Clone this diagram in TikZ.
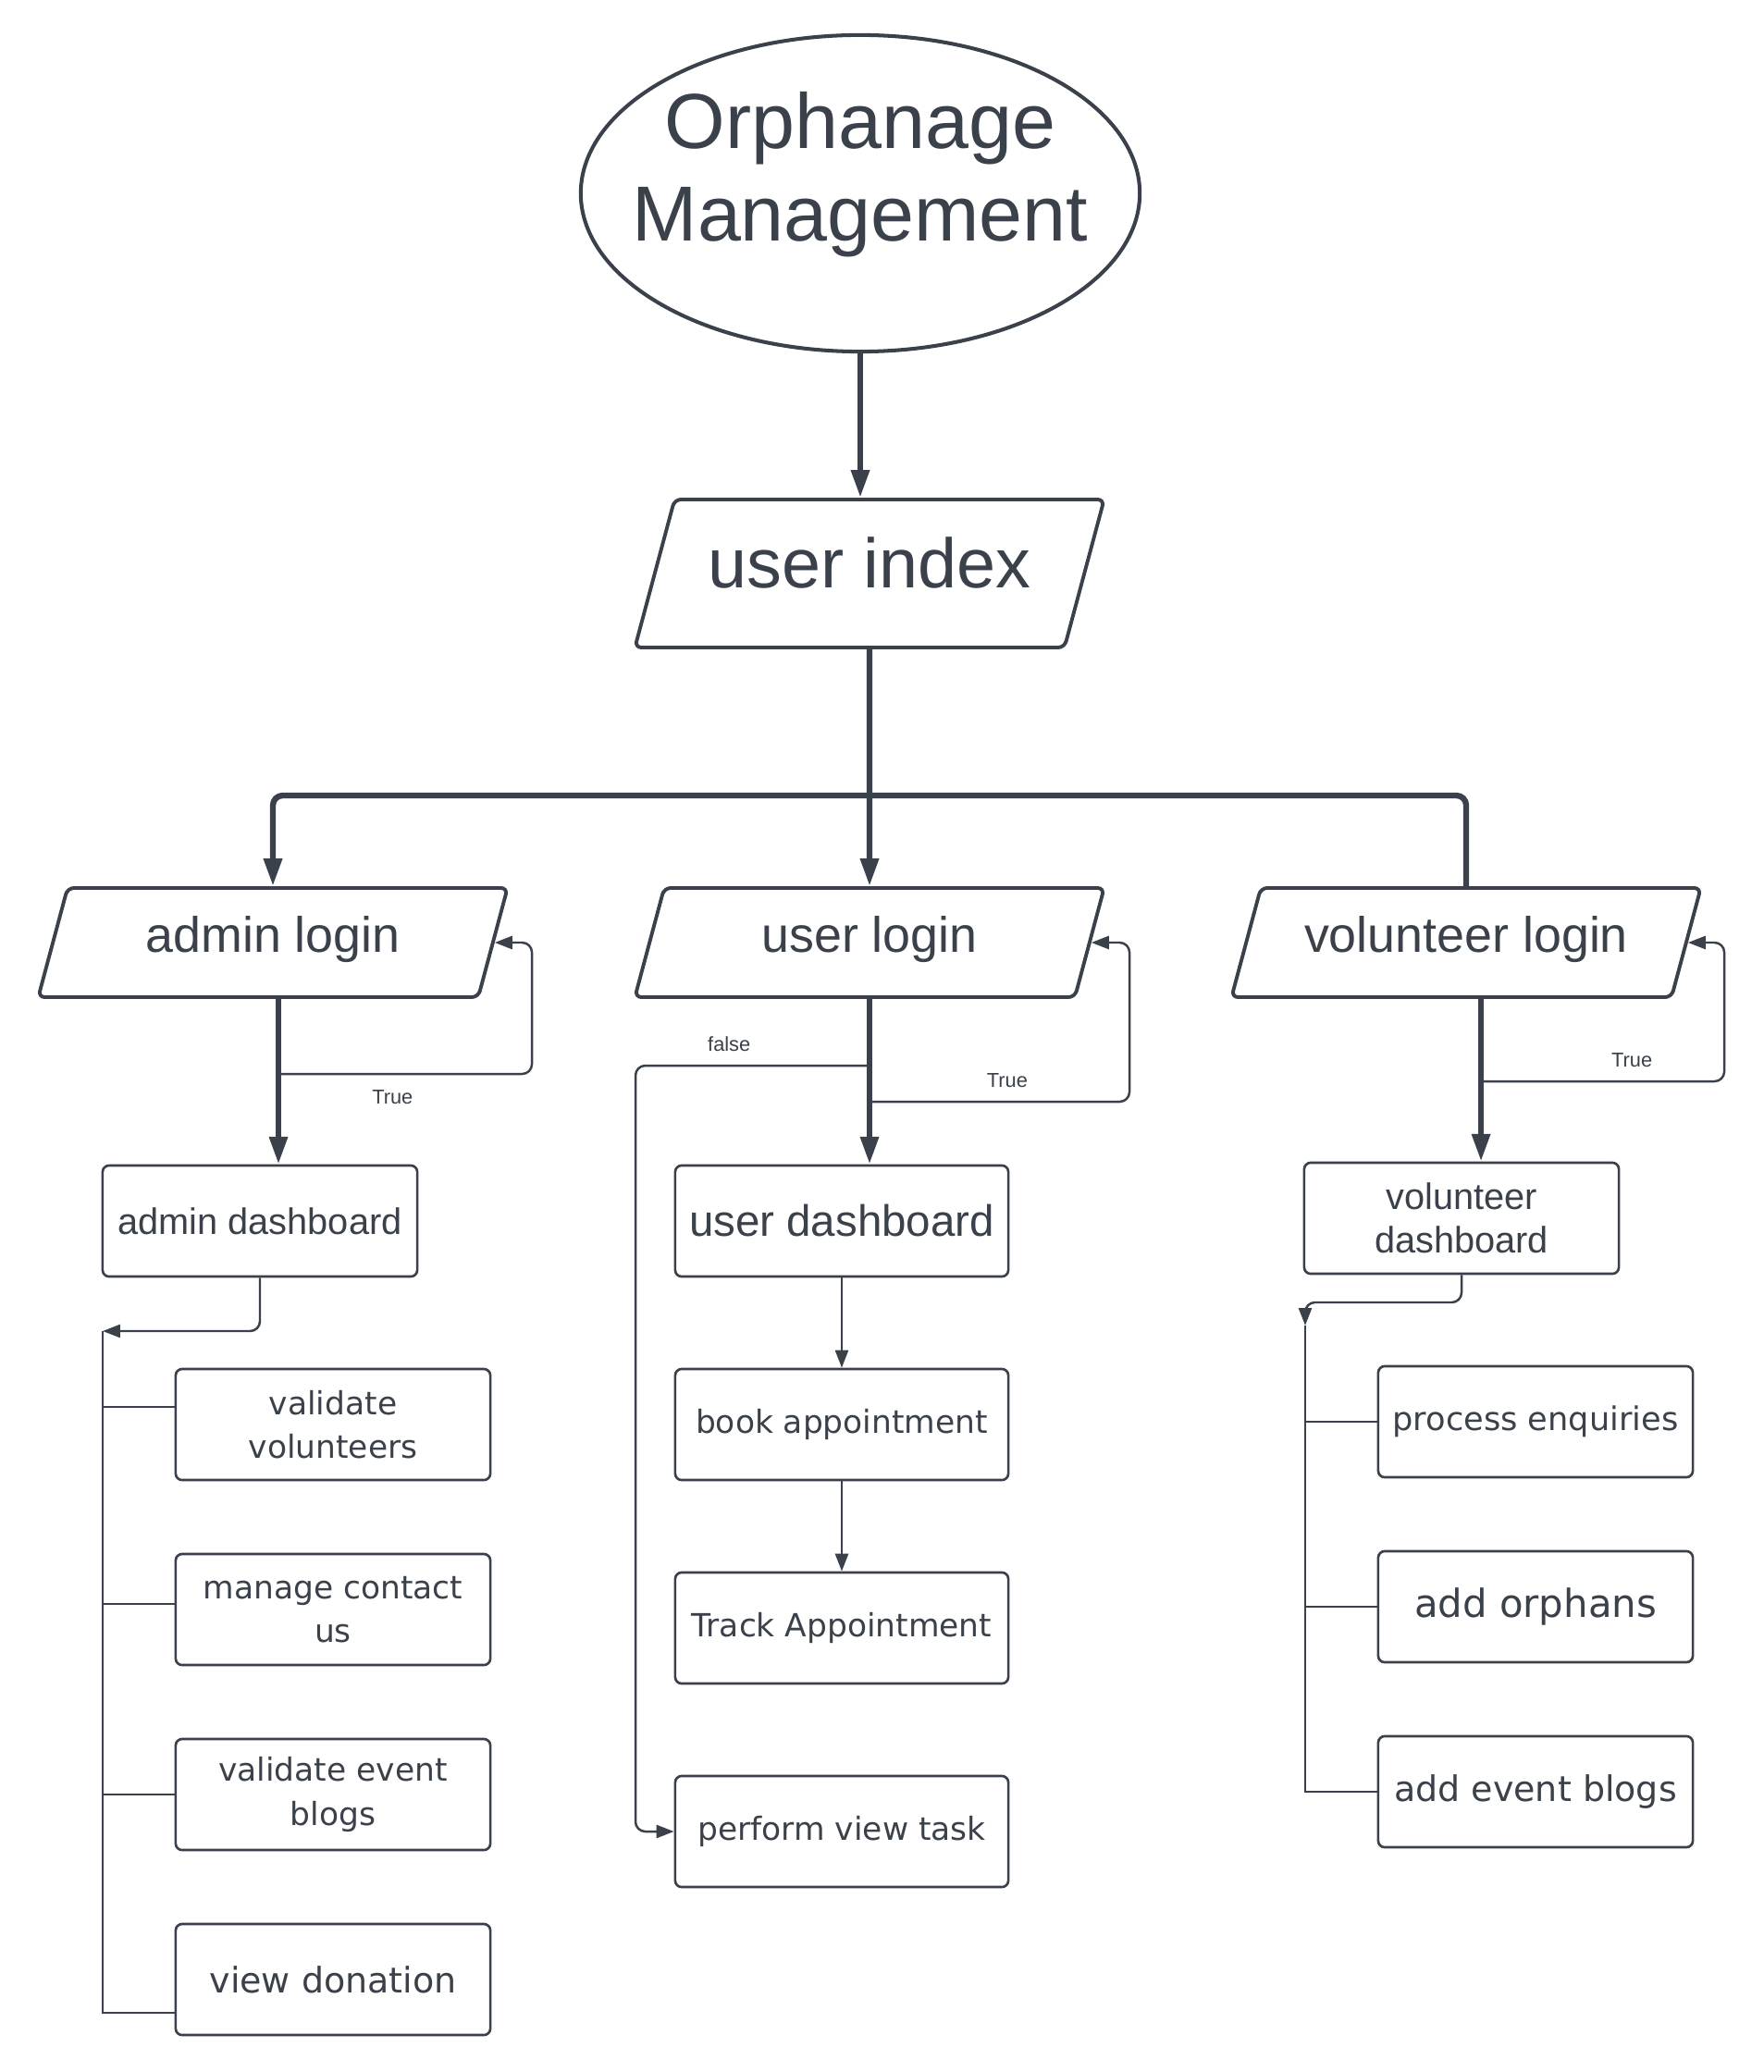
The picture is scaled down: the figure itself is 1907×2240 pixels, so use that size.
\documentclass[tikz,border=0pt]{standalone}
\usepackage{fontspec}
\setmainfont{Liberation Sans}
\newfontfamily\boxfont{DejaVu Sans}
\usetikzlibrary{shapes.geometric, arrows.meta}

\definecolor{ink}{RGB}{58,65,74}

\begin{document}
\begin{tikzpicture}[x=0.01cm, y=-0.01cm,
    >={Triangle[length=5.4pt, width=4pt]},
    every node/.style={text=ink},
    % Styles
    startnode/.style={draw=ink, ellipse, line width=1.15pt, minimum width=6.04cm,
                      minimum height=3.42cm, inner sep=0pt},
    titletext/.style={font=\fontsize{24}{28.5}\selectfont, align=center, inner sep=0pt},
    iobox/.style={draw=ink, trapezium, trapezium left angle=75, trapezium right angle=105,
                  trapezium stretches body=true, minimum width=5.07cm,
                  text height=0.69cm, text depth=0.49cm,
                  line width=1.1pt, rounded corners=2pt, inner sep=0pt,
                  font=\fontsize{15.3}{18}\selectfont},
    procbox/.style={draw=ink, rectangle, rounded corners=2pt, line width=0.75pt,
                    minimum width=3.4cm, minimum height=1.2cm, inner sep=0pt, align=center},
    dashfont/.style={font=\fontsize{11.3}{13.4}\selectfont},
    taskfont/.style={font=\boxfont\fontsize{9.8}{13.4}\selectfont},
    bigarrow/.style={-{Triangle[length=8.5pt, width=5.4pt]}, line width=1.8pt, color=ink},
    bigline/.style={line width=1.8pt, color=ink},
    link/.style={line width=0.7pt, color=ink},
    lbl/.style={font=\fontsize{6.2}{7}\selectfont, inner sep=1pt},
  ]

  \path[use as bounding box, fill=white] (0,0) rectangle (1907,2240);

  % Start
  \node[startnode] (orph) at (930,209) {};
  \node[titletext] (orphtext) at ([yshift=0.2cm]orph.center) {Orphanage\\Management};

  % Index
  \node[iobox, font=\fontsize{21.5}{24}\selectfont, text height=0.95cm, text depth=0.65cm] (uidx) at (940,620) {user index};

  % Logins
  \node[iobox] (al) at (295,1019) {admin login};
  \node[iobox] (ul) at (940,1019) {user login};
  \node[iobox] (vl) at (1585,1019) {volunteer login};

  % Dashboards
  \node[procbox, dashfont] (ad) at (281,1320) {admin dashboard};
  \node[procbox, font=\fontsize{13.5}{16}\selectfont, minimum width=3.6cm] (ud) at (910,1320) {user dashboard};
  \node[procbox, dashfont] (vd) at (1580,1317) {volunteer\\dashboard};

  % Admin tasks
  \node[procbox, taskfont] (vv) at (360,1540) {validate\\volunteers};
  \node[procbox, taskfont] (mc) at (360,1740) {manage contact\\us};
  \node[procbox, taskfont] (ve) at (360,1940) {validate event\\blogs};
  \node[procbox, font=\boxfont\fontsize{10.8}{13}\selectfont] (vdon) at (360,2140) {view donation};

  % User tasks
  \node[procbox, taskfont, minimum width=3.6cm] (ba) at (910,1540) {book appointment};
  \node[procbox, taskfont, minimum width=3.6cm] (ta) at (910,1760) {Track Appointment};
  \node[procbox, taskfont, minimum width=3.6cm] (pv) at (910,1980) {perform view task};

  % Volunteer tasks
  \node[procbox, font=\boxfont\fontsize{10}{13}\selectfont] (pe) at (1660,1537) {process enquiries};
  \node[procbox, font=\boxfont\fontsize{11.9}{14}\selectfont] (ao) at (1660,1737) {add orphans};
  \node[procbox, font=\boxfont\fontsize{10.8}{13}\selectfont] (ae) at (1660,1937) {add event blogs};

  % Helper points
  \coordinate (bar) at (940,860);
  \coordinate (ash) at ([xshift=0.06cm]al.south);
  \coordinate (ush) at (ul.south);
  \coordinate (vsh) at ([xshift=0.16cm]vl.south);
  \coordinate (atrunk) at (111,1439);
  \coordinate (vknee) at (1411,1408);
  \coordinate (vtrunk) at (1411,1433);

  % Main flow
  \draw[bigarrow] (orph.south) -- (orph.south |- uidx.north);
  \draw[bigline] (uidx.south) -- (bar);
  \draw[bigarrow, rounded corners=3pt] (bar) -| (al.north);
  \draw[bigarrow] (bar) -- (ul.north);
  \draw[bigline, rounded corners=3pt] (bar) -| (vl.north);

  % Admin branch
  \draw[bigarrow] (ash) -- (ash |- ad.north);
  \draw[link, ->, rounded corners=3pt] ([yshift=-0.81cm]ash) -- ++(274,0)
    node[lbl, pos=0.45, below=3.5pt] {True} |- (al.east);
  \draw[link, ->, rounded corners=3pt] (ad.south) |- (atrunk);
  \draw[link] (atrunk) |- ([yshift=0.19cm]vv.west);
  \draw[link] (atrunk) |- ([yshift=0.06cm]mc.west);
  \draw[link] (atrunk) |- (ve.west);
  \draw[link] (atrunk) |- ([yshift=-0.36cm]vdon.west);

  % User branch
  \draw[bigarrow] (ush) -- (ush |- ud.north);
  \draw[link, ->, rounded corners=3pt] ([yshift=-1.11cm]ush) -- ++(281,0)
    node[lbl, pos=0.53, above=3pt] {True} |- (ul.east);
  \draw[link, ->, rounded corners=3pt] ([yshift=-0.72cm]ush) -- ++(-253,0)
    node[lbl, pos=0.6, above=3pt] {false} |- (pv.west);
  \draw[link, ->] (ud.south) -- (ba.north);
  \draw[link, ->] (ba.south) -- (ta.north);

  % Volunteer branch
  \draw[bigarrow] (vsh) -- (vsh |- vd.north);
  \draw[link, ->, rounded corners=3pt] ([yshift=-0.89cm]vsh) -- ++(263,0)
    node[lbl, pos=0.62, above=3pt] {True} |- (vl.east);
  \draw[link, ->, rounded corners=3pt] (vd.south) |- (vknee) -- (vtrunk);
  \draw[link] (vtrunk) |- (pe.west);
  \draw[link] (vtrunk) |- (ao.west);
  \draw[link] (vtrunk) |- (ae.west);

\end{tikzpicture}
\end{document}
